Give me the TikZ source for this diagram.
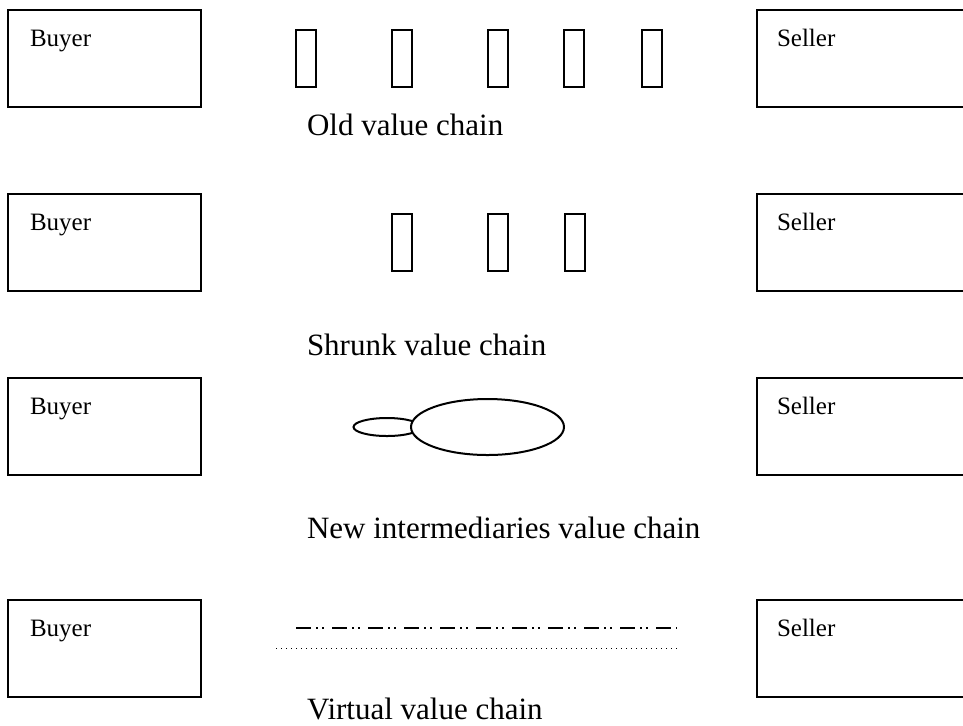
\documentclass[tikz,border=0pt]{standalone}
\usepackage{fontspec}
\setmainfont{Liberation Serif}
\usetikzlibrary{calc,shapes.geometric}

\begin{document}
\begin{tikzpicture}[x=0.5pt,y=-0.5pt,line width=1pt,
    party/.style={draw,rectangle,anchor=north west,inner sep=0pt,outer sep=0pt,
      minimum width=96.5pt,minimum height=48.5pt},
    who/.style={anchor=base west,inner sep=0pt,font=\fontsize{12.5}{15}\selectfont},
    stage/.style={draw,rectangle,inner sep=0pt,minimum width=10pt,minimum height=28.5pt},
    tag/.style={anchor=base west,inner sep=0pt,font=\fontsize{15.5}{18}\selectfont}]
  \useasboundingbox (0,0) rectangle (963,725);
  \clip (0,0) rectangle (963,725);

  % buyer and seller boxes, one pair per row
  \foreach \n/\y in {1/10,2/194,3/378,4/600}{
    \node[party] (buyer\n) at (7.5,\y) {};
    \node[who] (buyertext\n) at ($(buyer\n.north west)+(21.5,36)$) {Buyer};
    \node[party,minimum width=110pt] (seller\n) at (756.5,\y) {};
    \node[who] (sellertext\n) at ($(seller\n.north west)+(19.5,36)$) {Seller};
  }

  % old chain: five stages
  \foreach \i/\x in {1/306,2/401.5,3/497.5,4/574,5/651.5}
    \node[stage] (old\i) at (\x,58.5) {};
  \node[tag] (oldtag) at (306,135) {Old value chain};

  % shrunk chain: three stages
  \foreach \i/\x in {1/402,2/498,3/574.5}
    \node[stage] (shrunk\i) at (\x,242.5) {};
  \node[tag] (shrunktag) at (306,355) {Shrunk value chain};

  % new intermediaries
  \node[draw,ellipse,inner sep=0pt,minimum width=33.5pt,minimum height=9pt]
    (spoke) at (387,427) {};
  \node[draw,ellipse,fill=white,inner sep=0pt,minimum width=76.5pt,minimum height=28pt]
    (hub) at (487.5,427) {};
  \node[tag] (newtag) at (306,538) {New intermediaries value chain};

  % virtual chain
  \draw[dash pattern=on 7.5pt off 2.7pt on 1pt off 2pt on 1pt off 3.8pt]
    (296,628) -- (677,628);
  \draw[line width=0.5pt,dotted] (276,648) -- (677,648);
  \node[tag] (virtualtag) at (306,719) {Virtual value chain};
\end{tikzpicture}
\end{document}
